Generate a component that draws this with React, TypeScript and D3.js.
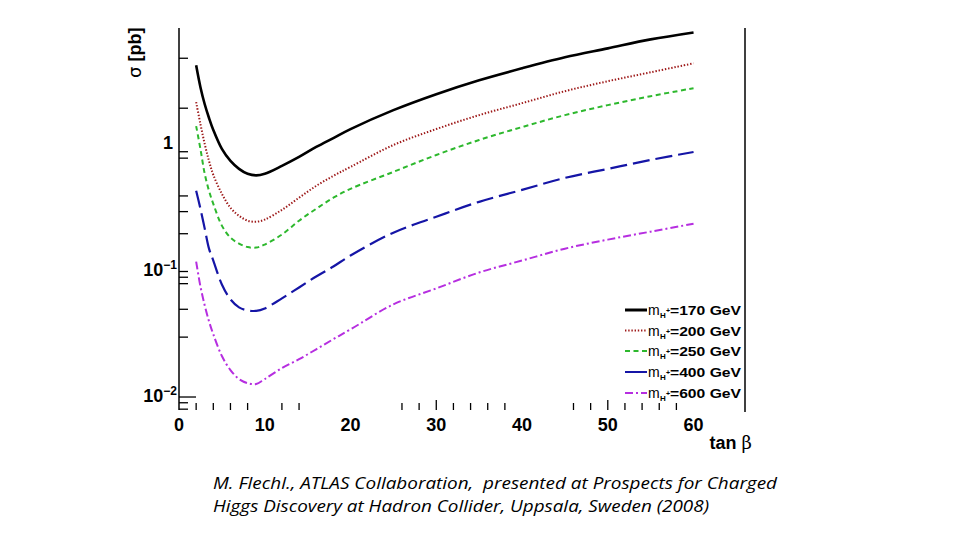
import React from "react";
import * as d3 from "d3";

const tanBeta = [2, 2.5, 3, 3.5, 4, 5, 6, 7, 8, 9, 10, 12, 14, 16, 18, 20, 25, 30, 35, 40, 45, 50, 55, 60];
const sigma170 = [4.39, 2.94, 2.15, 1.67, 1.34, 0.947, 0.76, 0.657, 0.6, 0.583, 0.6, 0.694, 0.818, 0.982, 1.157, 1.364, 1.931, 2.587, 3.341, 4.159, 5.085, 5.995, 7.068, 8.031];
const sigma200 = [2.235, 1.495, 1.037, 0.76, 0.589, 0.416, 0.322, 0.278, 0.254, 0.249, 0.259, 0.31, 0.387, 0.481, 0.578, 0.681, 1.018, 1.364, 1.762, 2.194, 2.733, 3.28, 3.867, 4.557];
const sigma250 = [1.441, 0.947, 0.6, 0.439, 0.346, 0.232, 0.186, 0.167, 0.1565, 0.155, 0.164, 0.197, 0.254, 0.316, 0.387, 0.456, 0.622, 0.848, 1.116, 1.415, 1.762, 2.116, 2.494, 2.886];
const sigma400 = [0.439, 0.316, 0.2195, 0.152, 0.1223, 0.0788, 0.06, 0.0518, 0.049, 0.0486, 0.0508, 0.0611, 0.0746, 0.0913, 0.1096, 0.134, 0.204, 0.273, 0.359, 0.447, 0.557, 0.657, 0.774, 0.896];
const sigma600 = [0.12, 0.076, 0.0537, 0.0401, 0.0316, 0.0212, 0.0164, 0.0139, 0.0129, 0.0127, 0.0139, 0.017, 0.02, 0.024, 0.0289, 0.0346, 0.0547, 0.0733, 0.0982, 0.1223, 0.152, 0.1795, 0.2077, 0.2404];

const massLabels = ["170", "200", "250", "400", "600"];
const xLabelTicks = [0, 10, 20, 30, 40, 50, 60];
const xMinorTicks = [2, 4, 6, 8, 12, 14, 26, 28, 32, 34, 36, 38, 46, 48, 52, 54, 56, 58];
const xMajorTicks = [30, 50];
const yMinorTicks = [5, 2, 0.9, 0.8, 0.4, 0.3, 0.2, 0.1, 0.09, 0.08, 0.05, 0.03, 0.009, 0.008];
const yMajorTicks = [0.01];
const yLabelTicks = [
  { v: 1, base: "1", exp: "" },
  { v: 0.1, base: "10", exp: "\u22121" },
  { v: 0.01, base: "10", exp: "\u22122" },
];
const captionLines = [
  "M. Flechl., ATLAS Collaboration,  presented at Prospects for Charged",
  "Higgs Discovery at Hadron Collider, Uppsala, Sweden (2008)",
];

const styles = [
  { color: "#000000", dash: "", width: 2.6 },
  { color: "#9e1a1a", dash: "1.4 1.8", width: 2 },
  { color: "#2db82d", dash: "5 3.5", width: 2 },
  { color: "#1515a6", dash: "17 6", width: 2.2 },
  { color: "#b62ee0", dash: "8 3 2 3", width: 2 },
];

const series = [sigma170, sigma200, sigma250, sigma400, sigma600];

const LEFT = 179;
const RIGHT = 745;
const TOP = 28;
const BOTTOM = 410;

export default function App() {
  const x = d3.scaleLinear().domain([0, 66]).range([LEFT, RIGHT]);
  const y = d3.scaleLog().domain([0.00788, 8.71]).range([BOTTOM, TOP]);
  const line = d3
    .line<number>()
    .x((_, i) => x(tanBeta[i]))
    .y((d) => y(d))
    .curve(d3.curveCatmullRom.alpha(0.5));

  const axisFont = "'Liberation Sans', Arial, sans-serif";
  const legendRows = [310, 330.5, 351, 372, 393];
  const captionWidths = [564, 496];

  return (
    <svg
      width={960}
      height={540}
      style={{ position: "absolute", left: 0, top: 0, background: "#fff" }}
    >
      <rect x={0} y={0} width={960} height={540} fill="#fff" />
      {series.map((s, i) => (
        <path
          key={i}
          d={line(s) || ""}
          fill="none"
          stroke={styles[i].color}
          strokeWidth={styles[i].width}
          strokeDasharray={styles[i].dash}
          strokeLinejoin="round"
        />
      ))}
      <line x1={LEFT} x2={LEFT} y1={TOP} y2={BOTTOM} stroke="#000" strokeWidth={1.5} />
      <line x1={RIGHT} x2={RIGHT} y1={TOP} y2={BOTTOM + 2} stroke="#000" strokeWidth={1.5} />
      {yMinorTicks.map((v) => (
        <line key={"ym" + v} x1={LEFT} x2={LEFT + 9} y1={y(v)} y2={y(v)} stroke="#000" strokeWidth={1.3} />
      ))}
      {yMajorTicks.map((v) => (
        <line key={"yM" + v} x1={LEFT} x2={LEFT + 17} y1={y(v)} y2={y(v)} stroke="#000" strokeWidth={1.3} />
      ))}
      {xMinorTicks.map((v) => (
        <line key={"xm" + v} x1={x(v)} x2={x(v)} y1={BOTTOM - 7} y2={BOTTOM} stroke="#000" strokeWidth={1.3} />
      ))}
      {xMajorTicks.map((v) => (
        <line key={"xM" + v} x1={x(v)} x2={x(v)} y1={BOTTOM - 10} y2={BOTTOM} stroke="#000" strokeWidth={1.3} />
      ))}
      {xLabelTicks.map((v) => (
        <text
          key={"xl" + v}
          x={x(v)}
          y={431}
          textAnchor="middle"
          fontFamily={axisFont}
          fontWeight="bold"
          fontSize={18}
          fill="#000"
        >
          {v}
        </text>
      ))}
      {yLabelTicks.map((t) =>
        t.exp ? (
          <text key={"yl" + t.v} x={177} y={y(t.v) + 5} textAnchor="end" fontFamily={axisFont} fontWeight="bold" fontSize={18} fill="#000">
            <tspan>{t.base}</tspan>
            <tspan dy={-7} fontSize={12}>{t.exp}</tspan>
          </text>
        ) : (
          <text key={"yl" + t.v} x={173} y={y(t.v) + 3} textAnchor="end" fontFamily={axisFont} fontWeight="bold" fontSize={18} fill="#000">
            {t.base}
          </text>
        )
      )}
      <text x={752} y={449} textAnchor="end" fontFamily={axisFont} fontWeight="bold" fontSize={18} fill="#000">
        <tspan>tan </tspan>
        <tspan fontWeight="normal" fontFamily="'DejaVu Serif', serif" fontSize={18}>β</tspan>
      </text>
      <text
        transform="translate(141,78) rotate(-90)"
        textAnchor="start"
        fontFamily={axisFont}
        fontWeight="bold"
        fontSize={18}
        fill="#000"
      >
        <tspan fontWeight="normal" fontFamily="'DejaVu Sans', sans-serif">σ</tspan>
        <tspan> [pb]</tspan>
      </text>
      {massLabels.map((m, i) => (
        <g key={"lg" + m}>
          <line
            x1={625}
            x2={647}
            y1={legendRows[i]}
            y2={legendRows[i]}
            stroke={styles[i].color}
            strokeWidth={i === 0 ? 3 : 2}
            strokeDasharray={i === 3 ? "" : styles[i].dash}
          />
          <text y={legendRows[i] + 5} fontFamily={axisFont} fontSize={14} fill="#000">
            <tspan x={648}>m</tspan>
            <tspan x={660} dy={3} fontSize={8} fontWeight="bold">H</tspan>
            <tspan x={666} dy={-5} fontSize={7} fontWeight="bold">+</tspan>
          </text>
          <text
            x={670}
            y={legendRows[i] + 5}
            fontFamily={axisFont}
            fontSize={13.5}
            fontWeight="bold"
            fill="#000"
            textLength={71}
            lengthAdjust="spacingAndGlyphs"
          >
            ={m} GeV
          </text>
        </g>
      ))}
      {captionLines.map((c, i) => (
        <text
          key={"cap" + i}
          x={213}
          y={489 + i * 23}
          fontFamily="'Open Sans', 'Noto Sans', sans-serif"
          fontStyle="italic"
          fontSize={16.5}
          fill="#000"
          textLength={captionWidths[i]}
          lengthAdjust="spacingAndGlyphs"
          style={{ whiteSpace: "pre" }}
        >
          {c}
        </text>
      ))}
    </svg>
  );
}
